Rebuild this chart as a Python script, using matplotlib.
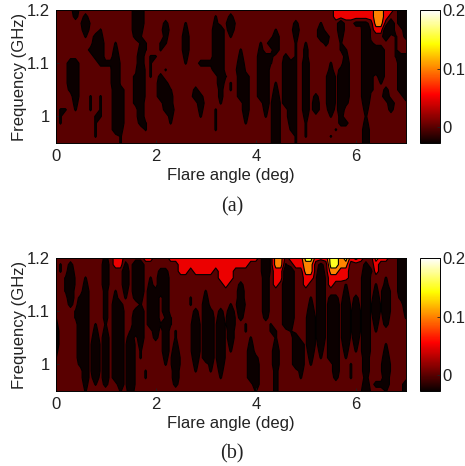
"""Two flare-angle / frequency contour maps with a shared hot colour scale."""
import matplotlib

matplotlib.use("Agg")
import matplotlib.pyplot as plt
import numpy as np
from matplotlib.cm import ScalarMappable
from matplotlib.colors import Normalize

# field values, background is 0
CODES = {"-": -0.03, "+": -0.045, "#": -0.08, "@": -0.25, "r": 0.05, "o": 0.1, "y": 0.15}
ANGLES = [i / 10 for i in range(71)]
FREQS = [1.2 - i * 0.0125 for i in range(21)]
X_TICKS = [0, 2, 4, 6]
Y_TICKS = [1, 1.1, 1.2]
Y_LABELS = ["1", "1.1", "1.2"]
CBAR_TICKS = [0, 0.1, 0.2]
CBAR_LABELS = ["0", "0.1", "0.2"]
LEVELS = [-0.4, -0.025, 0.025, 0.075, 0.125, 0.175, 0.225]

# one string per frequency from 1.2 GHz down: "<angle index><code>" or "<from>:<to><code>"
PANEL_A = [
    "4# 16# 17# 56:63r 64o 65o 66r 67r 69# 70#",
    "4+ 6+ 16# 17# 32- 35+ 56:63r 64o 65o 66r 69# 70#",
    "6@ 16# 17# 22+ 26- 32+ 35@ 48+ 53- 57# 60+ 61+ 62+ 64o 65o 67# 69# 70#",
    "6# 9- 16# 17+ 22# 26+ 32# 33# 35# 44- 48# 53# 57# 62@ 64r 65r 66# 67# 70#",
    "6- 8+ 9+ 16+ 17- 22+ 26# 32# 33# 35- 44# 48+ 53# 54# 57+ 62@ 66# 68- 70+",
    "8# 9# 12- 17- 18- 21- 22- 26# 32# 33# 41- 43# 44# 48- 50- 54+ 57- 62@ 63+ 68-",
    "7+ 8# 9# 12+ 17+ 18- 21- 26# 32# 33# 37- 41+ 44# 48- 50+ 57- 58- 62@ 63+ 64# 65# 68-",
    "8+ 9# 12# 17# 19- 20- 26+ 32# 33# 37+ 41# 42+ 43+ 46+ 48- 50+ 58+ 62@ 63+ 64# 65# 68- 69+ 70+",
    "3# 4# 9+ 10+ 11+ 12@ 17# 19- 26- 29+ 30+ 31+ 32# 33# 37# 41# 42# 43- 46# 47+ 48- 50# 55- 58# 62@ 63+ 64# 65# 69# 70#",
    "3# 4# 12@ 17@ 19- 22- 32# 33# 37@ 41# 42# 46# 47# 48- 50# 55+ 57+ 58# 62@ 63+ 64# 65# 69# 70#",
    "0- 3# 4# 12@ 16+ 17@ 19- 21+ 33# 34- 37# 38# 41# 42# 46# 47# 48- 50# 55@ 57# 58# 62@ 63+ 65# 69# 70#",
    "0- 3# 4# 12@ 16+ 17@ 21# 22+ 33# 35- 37# 38# 41# 42# 44- 46# 47# 48- 50# 55@ 57# 58# 62@ 63+ 65- 69# 70#",
    "0- 3+ 4# 12# 13# 16+ 17@ 21# 22# 23- 28+ 33+ 35- 37# 38# 41# 42# 44+ 46# 47# 48- 50# 55@ 57# 58# 62@ 63+ 66+ 69# 70#",
    "0- 4# 7- 9- 12# 13# 16+ 17@ 21# 22# 23+ 28# 29+ 33+ 37# 38# 41# 42# 44# 46# 47# 48- 50# 52+ 55@ 57# 58# 62@ 66# 70#",
    "0- 4+ 7- 9- 12# 13# 16+ 17# 22# 23+ 29# 33- 38# 42# 44@ 46# 47# 48- 50# 52# 55@ 57# 58+ 62# 67#",
    "1- 2- 4- 7- 9- 12# 13# 17# 22+ 23# 29+ 32- 38# 42+ 44@ 47# 48- 50# 52# 55# 57# 62+ 67+",
    "1- 8- 9- 12# 13# 17# 23+ 29- 32- 38+ 42- 44@ 47# 48- 50+ 55- 57+ 62-",
    "1- 8- 12# 13# 17+ 18- 23- 32- 38- 44@ 47+ 48- 50- 57+ 58+ 62+",
    "0- 8- 12# 13+ 18- 32- 44@ 47- 48- 50- 56- 62#",
    "0- 8- 13- 44@ 48- 50- 55- 62#",
    "0- 13- 44@ 48- 62#",
]

PANEL_B = [
    "10+ 12r 13r 18r 19r 23:40r 42@ 44o 45o 47:49r 50y 51y 52r 53r 54r 55y 56y 57o 58y 59r 60o 61r 64o 65r 66r 69# 70#",
    "1- 3+ 10# 12r 13r 14+ 16# 17# 25:38r 42@ 44o 45o 46- 48r 49r 50o 51o 53+ 55y 56y 57o 58o 62+ 64r 69# 70#",
    "1- 3# 10# 14# 16# 17# 21+ 22+ 25r 26r 28r 29r 30r 31r 33r 34r 35r 42@ 44r 45r 46# 47# 50o 51o 53# 55o 56o 57r 58r 62# 63+ 64r 69# 70#",
    "2- 3@ 6- 10# 14# 16# 17# 19- 21# 22# 33r 34r 35r 42# 44r 45r 46# 47# 50r 51r 53@ 55r 56r 57r 58r 62@ 66- 69# 70#",
    "2- 3@ 6+ 10# 14# 16# 17# 19+ 21# 22# 34r 37+ 42# 44r 46# 47# 50r 53@ 55r 58- 62@ 64- 66+ 69# 70#",
    "2- 3# 6# 10+ 12- 14+ 16# 17# 19# 20+ 21# 22# 30- 37# 42# 46# 47# 53@ 58+ 62@ 64+ 66@ 69# 70#",
    "3# 5+ 6# 10+ 12+ 14- 16+ 17+ 19# 20# 22# 27- 30+ 37# 42# 46# 47# 51- 53@ 55+ 56+ 58# 60+ 62@ 64# 66@ 69+ 70#",
    "3+ 5# 6# 10+ 12# 13+ 17- 19# 20# 22# 27- 30# 35- 37@ 42# 46# 47# 51+ 53@ 55# 56# 58@ 60# 62@ 64@ 66@ 70#",
    "4- 5# 6# 10+ 12# 13# 16+ 17# 19# 20# 22# 28+ 30# 31+ 33+ 35# 37# 42# 46# 47# 51# 53@ 55# 56# 58@ 60@ 62@ 64@ 66@ 70+",
    "0- 4- 5# 6# 10+ 12# 13# 16# 17# 19# 20# 22- 23- 28# 30# 31# 33# 35@ 37+ 42+ 46# 47# 51@ 53@ 55# 56# 58@ 60@ 62@ 64# 66# 70-",
    "0+ 5# 6# 8- 10- 12# 13# 16# 17# 19# 20# 21- 22+ 23- 28@ 30# 31# 33@ 35@ 38- 43- 46# 47+ 51@ 53@ 55# 56# 58@ 60@ 62@ 64+ 66+",
    "0# 5# 6# 8+ 10+ 12# 13# 15- 16# 17# 20# 22# 24- 28@ 30# 31# 33@ 35# 38- 43- 44- 47- 51@ 53@ 55# 56# 58@ 60@ 62@ 64-",
    "0# 5# 6# 8# 10# 12# 13# 15# 17# 20+ 22# 24- 28@ 30# 31# 33@ 35# 39- 44- 48# 51@ 53@ 55# 56# 58@ 60# 62@",
    "0# 5# 6# 8@ 10# 12# 13# 15@ 17+ 22# 24+ 28@ 30# 31# 33@ 35+ 39+ 44+ 48# 49# 51@ 53# 55# 56# 58# 60+ 62@ 66-",
    "0+ 5# 6# 8@ 10# 12# 13# 15@ 17- 22# 24# 28@ 30# 31# 33@ 35- 39# 44# 48# 49# 51# 53+ 55# 56# 58+ 60- 62@ 66+",
    "0- 5# 6# 8@ 10# 12# 13# 15@ 17- 22+ 24@ 28# 30# 31# 33@ 39# 40+ 44# 48# 49# 51+ 53- 55# 56# 58- 62# 66#",
    "5+ 6# 8@ 10# 12# 13# 15@ 22- 24@ 28+ 31+ 33# 39# 40# 44# 48# 49# 51- 56# 59- 62# 66@",
    "6# 8@ 10# 12# 13# 15@ 18- 24# 28- 31- 33+ 39# 40# 44+ 49+ 56# 59- 62# 66@",
    "6# 8# 10# 12# 13# 15@ 18- 24# 33- 39# 40# 44+ 49- 56+ 59- 62+ 66#",
    "6+ 8- 10+ 13# 15@ 24+ 40# 44+ 62# 64+ 65+ 66# 70#",
    "6- 13- 15# 40- 44+ 62@ 66- 70#",
]

FIG_W, FIG_H = 465, 466
AXES_LEFT, AXES_RIGHT = 55.5, 406
CBAR_LEFT, CBAR_RIGHT = 420, 440
TEXT_COLOR = "#222222"


def decode(rows):
    """Turn the sparse row strings into a 2D array on ANGLES x FREQS."""
    field = np.zeros((len(FREQS), len(ANGLES)))
    for i, row in enumerate(rows):
        for token in row.split():
            span, code = token[:-1], token[-1]
            start, _, stop = span.partition(":")
            field[i, int(start) : int(stop or start) + 1] = CODES[code]
    return field


def add_axes(fig, left, right, top, bottom):
    return fig.add_axes([left / FIG_W, 1 - bottom / FIG_H, (right - left) / FIG_W, (bottom - top) / FIG_H])


def draw_panel(fig, rows, top, bottom, tag, tag_y):
    norm = Normalize(vmin=-0.027, vmax=0.2)
    ax = add_axes(fig, AXES_LEFT, AXES_RIGHT, top, bottom)
    field = decode(rows)
    ax.set_facecolor(plt.get_cmap("hot")(norm(0.0)))
    ax.contourf(ANGLES, FREQS, field, levels=LEVELS, cmap="hot", norm=norm, antialiased=True)
    # solid: matplotlib dashes negative contour levels otherwise
    ax.contour(ANGLES, FREQS, field, levels=LEVELS[1:], colors="black", linewidths=0.8, linestyles="solid")
    ax.set_xlim(0, 7)
    ax.set_ylim(0.95, 1.2)
    ax.set_xticks(X_TICKS)
    ax.set_yticks(Y_TICKS)
    ax.set_yticklabels(Y_LABELS)
    ax.tick_params(direction="in", length=2, width=0.6, pad=4, labelsize=12, colors=TEXT_COLOR)
    ax.set_xlabel("Flare angle (deg)", fontsize=12, labelpad=3.5, color=TEXT_COLOR)
    ax.set_ylabel("Frequency (GHz)", fontsize=12, labelpad=0, color=TEXT_COLOR)
    for spine in ax.spines.values():
        spine.set_linewidth(0.7)

    cax = add_axes(fig, CBAR_LEFT, CBAR_RIGHT, top, bottom)
    cbar = fig.colorbar(ScalarMappable(norm=norm, cmap="hot"), cax=cax)
    cbar.set_ticks(CBAR_TICKS)
    cbar.set_ticklabels(CBAR_LABELS)
    cbar.ax.tick_params(direction="in", length=2, width=0.6, pad=1.5, labelsize=12, colors=TEXT_COLOR)
    cbar.outline.set_linewidth(0.7)

    fig.text(232 / FIG_W, 1 - tag_y / FIG_H, tag, ha="center", va="center", fontsize=14.5, family="Liberation Serif", color=TEXT_COLOR)


def main():
    plt.rcParams["font.family"] = ["Liberation Sans", "DejaVu Sans"]
    fig = plt.figure(figsize=(FIG_W / 100, FIG_H / 100), dpi=100)
    draw_panel(fig, PANEL_A, 10, 143, "(a)", 207)
    draw_panel(fig, PANEL_B, 258, 391, "(b)", 454)
    fig.savefig("out.png", dpi=100)
    plt.close(fig)


if __name__ == "__main__":
    main()
